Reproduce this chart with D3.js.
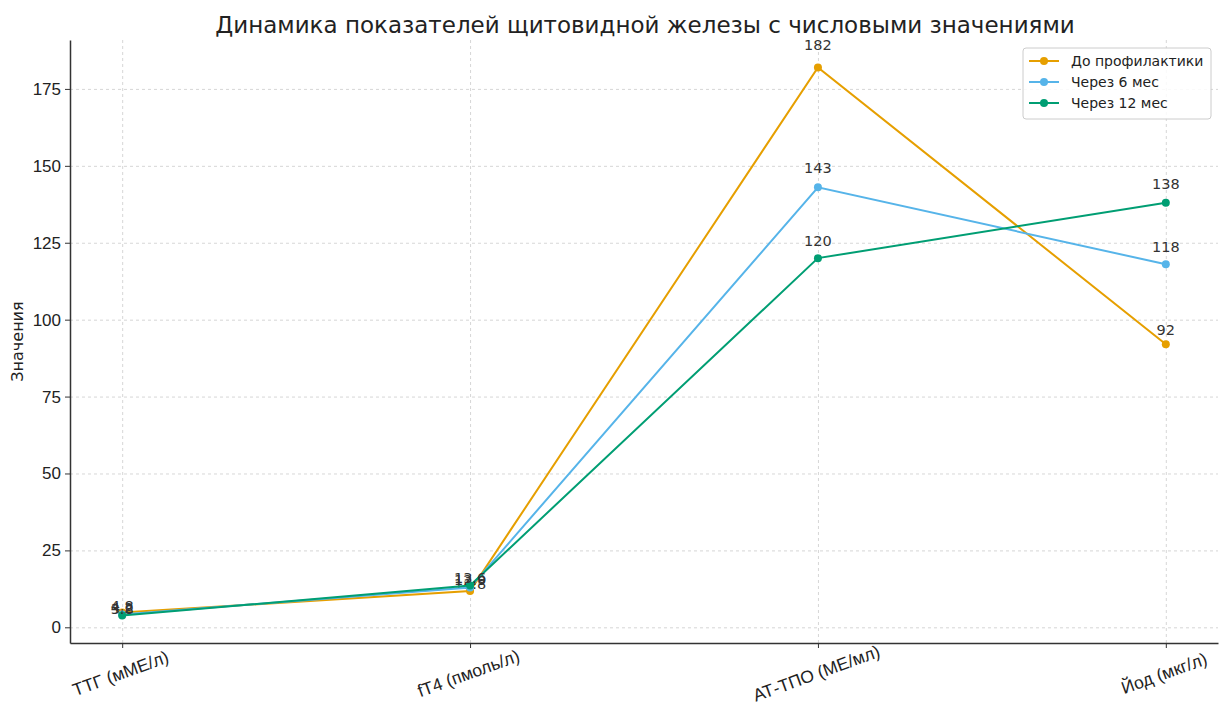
<!DOCTYPE html>
<html>
<head>
<meta charset="utf-8">
<script src="https://cdn.jsdelivr.net/npm/d3@7"></script>
<style>
  body { margin: 0; background: #fff; }
  svg { font-family: "DejaVu Sans", sans-serif; }
  .grid line { stroke: #ccc; stroke-dasharray: 3 3; stroke-width: 0.8; }
  .grid path { display: none; }
</style>
</head>
<body>
<svg id="chart" width="1219" height="708"></svg>
<script>
const categories = ['ТТГ (мМЕ/л)', 'fT4 (пмоль/л)', 'АТ-ТПО (МЕ/мл)', 'Йод (мкг/л)']
const seriesNames = ['До профилактики', 'Через 6 мес', 'Через 12 мес']
const before = [4.8, 11.8, 182, 92]
const after6 = [4.2, 12.9, 143, 118]
const after12 = [3.8, 13.6, 120, 138]
const yTicks = [0, 25, 50, 75, 100, 125, 150, 175]
const colors = ['#E69F00', '#56B4E9', '#009E73']

const series = [before, after6, after12].map((values, i) => ({
  name: seriesNames[i],
  color: colors[i],
  values
}))

const margin = { top: 40, right: 1, bottom: 65, left: 70 }
const width = 1219
const height = 708

const svg = d3.select('#chart')

const x = d3.scaleLinear()
  .domain([-0.15, categories.length - 1 + 0.15])
  .range([margin.left, width - margin.right])

const y = d3.scaleLinear()
  .domain([-5.1, 190.9])
  .range([height - margin.bottom, margin.top])

// grid
svg.append('g')
  .attr('class', 'grid')
  .attr('transform', `translate(0, ${height - margin.bottom})`)
  .call(d3.axisBottom(x).tickValues(d3.range(categories.length)).tickSize(-(height - margin.top - margin.bottom)).tickFormat(''))
svg.append('g')
  .attr('class', 'grid')
  .attr('transform', `translate(${margin.left}, 0)`)
  .call(d3.axisLeft(y).tickValues(yTicks).tickSize(-(width - margin.left - margin.right)).tickFormat(''))

// axes
const xAxis = svg.append('g')
  .attr('transform', `translate(0, ${height - margin.bottom})`)
  .call(d3.axisBottom(x).tickValues(d3.range(categories.length)).tickFormat(i => categories[i]).tickSize(5).tickSizeOuter(0))
xAxis.select('.domain').attr('stroke', '#333').attr('stroke-width', 1.5)
xAxis.selectAll('.tick line').attr('stroke', '#333')
xAxis.selectAll('.tick text')
  .attr('font-size', 17.5)
  .attr('fill', '#222')
  .attr('text-anchor', 'middle')
  .attr('dy', 0)
  .attr('y', 0)
  .attr('transform', 'translate(0, 36) rotate(-20)')

const yAxis = svg.append('g')
  .attr('transform', `translate(${margin.left}, 0)`)
  .call(d3.axisLeft(y).tickValues(yTicks).tickSize(5).tickSizeOuter(0))
yAxis.select('.domain').attr('stroke', '#333').attr('stroke-width', 1.5)
yAxis.selectAll('.tick line').attr('stroke', '#333')
yAxis.selectAll('.tick text').attr('font-size', 17).attr('fill', '#222').attr('x', -9)

svg.append('text')
  .attr('transform', `translate(23, ${(margin.top + height - margin.bottom) / 2}) rotate(-90)`)
  .attr('text-anchor', 'middle')
  .attr('font-size', 16)
  .attr('fill', '#222')
  .text('Значения')

svg.append('text')
  .attr('x', 645)
  .attr('y', 33)
  .attr('text-anchor', 'middle')
  .attr('font-size', 23)
  .attr('fill', '#222')
  .text('Динамика показателей щитовидной железы с числовыми значениями')

// lines
const line = d3.line()
  .x((d, i) => x(i))
  .y(d => y(d))

const g = svg.selectAll('.series')
  .data(series)
  .enter()
  .append('g')

g.append('path')
  .attr('d', d => line(d.values))
  .attr('fill', 'none')
  .attr('stroke', d => d.color)
  .attr('stroke-width', 2)

g.selectAll('circle')
  .data(d => d.values.map(v => ({ v, color: d.color })))
  .enter()
  .append('circle')
  .attr('cx', (d, i) => x(i))
  .attr('cy', d => y(d.v))
  .attr('r', 4)
  .attr('fill', d => d.color)

// labels sit just above value * 1.03
g.selectAll('.label')
  .data(d => d.values)
  .enter()
  .append('text')
  .attr('x', (d, i) => x(i))
  .attr('y', d => y(d * 1.03) - 1)
  .attr('text-anchor', 'middle')
  .attr('font-size', 14.5)
  .attr('fill', '#333')
  .text(d => d)

// legend
const legend = svg.append('g').attr('transform', 'translate(1023, 48)')
legend.append('rect')
  .attr('width', 188)
  .attr('height', 71)
  .attr('rx', 3)
  .attr('fill', 'rgba(255,255,255,0.85)')
  .attr('stroke', '#ccc')
const items = legend.selectAll('.item')
  .data(series)
  .enter()
  .append('g')
  .attr('transform', (d, i) => `translate(0, ${13 + i * 21})`)
items.append('line')
  .attr('x1', 6).attr('x2', 36)
  .attr('stroke', d => d.color)
  .attr('stroke-width', 2)
items.append('circle')
  .attr('cx', 21)
  .attr('r', 4)
  .attr('fill', d => d.color)
items.append('text')
  .attr('x', 48)
  .attr('dy', '0.35em')
  .attr('font-size', 14)
  .attr('fill', '#222')
  .text(d => d.name)
</script>
</body>
</html>
